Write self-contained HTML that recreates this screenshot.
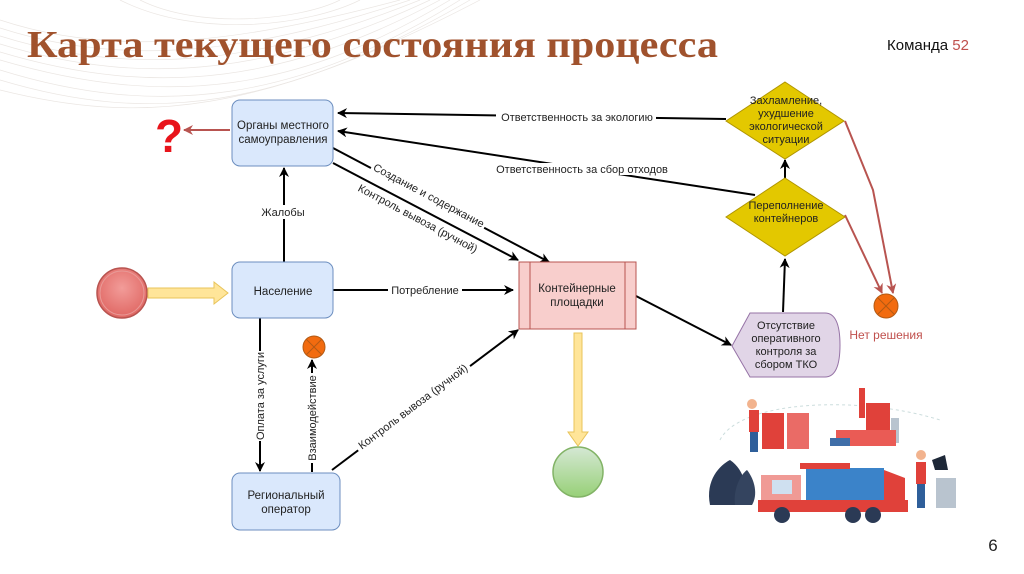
<!DOCTYPE html>
<html><head><meta charset="utf-8"><style>
html,body{margin:0;padding:0;background:#fff;}
svg{display:block;}
</style></head><body>
<svg width="1024" height="574" viewBox="0 0 1024 574" xmlns="http://www.w3.org/2000/svg" font-family="Liberation Sans, sans-serif">
<defs>
<marker id="a" markerWidth="10" markerHeight="10" refX="9" refY="5" orient="auto" markerUnits="userSpaceOnUse"><path d="M0,0 L10,5 L0,10 L3,5 z" fill="#000"/></marker>
<marker id="r" markerWidth="10" markerHeight="10" refX="9" refY="5" orient="auto" markerUnits="userSpaceOnUse"><path d="M0,0 L10,5 L0,10 L3,5 z" fill="#b85450"/></marker>
<radialGradient id="gr" cx="0.5" cy="0.4" r="0.6"><stop offset="0" stop-color="#f29c99"/><stop offset="1" stop-color="#e06763"/></radialGradient>
<linearGradient id="gg" x1="0" y1="0" x2="0" y2="1"><stop offset="0" stop-color="#d5e8d4"/><stop offset="1" stop-color="#97d077"/></linearGradient>
</defs>
<g fill="none" stroke="#e6e0dc" stroke-width="0.7" opacity="0.8">
<path d="M0,20 C120,60 250,40 400,0"/><path d="M0,28 C130,70 260,50 410,0"/><path d="M0,36 C140,80 270,60 420,0"/><path d="M0,44 C150,90 280,70 430,0"/><path d="M0,52 C160,100 290,80 440,0"/><path d="M0,60 C170,110 300,90 450,0"/><path d="M0,70 C160,120 300,100 460,0"/><path d="M0,80 C150,125 280,110 470,0"/><path d="M0,90 C140,125 260,115 480,0"/>
<path d="M140,0 C200,30 300,20 340,0"/><path d="M120,0 C200,40 310,25 360,0"/>
</g>
<text x="27" y="57" font-family="Liberation Serif, serif" font-weight="bold" font-size="38" fill="#a0522d" textLength="691" lengthAdjust="spacingAndGlyphs">Карта текущего состояния процесса</text>
<text x="887" y="50" font-size="15" fill="#111">Команда <tspan fill="#c0504d">52</tspan></text>

<g stroke="#000" stroke-width="2" fill="none">
<line x1="726" y1="119" x2="338" y2="113" marker-end="url(#a)"/>
<line x1="755" y1="195" x2="338" y2="131" marker-end="url(#a)"/>
<line x1="333" y1="148" x2="549" y2="262" marker-end="url(#a)"/>
<line x1="333" y1="163" x2="518" y2="260" marker-end="url(#a)"/>
<line x1="284" y1="262" x2="284" y2="168" marker-end="url(#a)"/>
<line x1="333" y1="290" x2="513" y2="290" marker-end="url(#a)"/>
<line x1="260" y1="318" x2="260" y2="471" marker-end="url(#a)"/>
<line x1="312" y1="472" x2="312" y2="360" marker-end="url(#a)"/>
<line x1="332" y1="470" x2="518" y2="330" marker-end="url(#a)"/>
<line x1="636" y1="296" x2="731" y2="345" marker-end="url(#a)"/>
<line x1="783" y1="312" x2="785" y2="259" marker-end="url(#a)"/>
<line x1="785" y1="178" x2="785" y2="160" marker-end="url(#a)"/>
</g>
<g stroke="#b85450" stroke-width="2" fill="none">
<line x1="230" y1="130" x2="184" y2="130" marker-end="url(#r)"/>
<polyline points="845,121 873,190 893,293" marker-end="url(#r)"/>
<polyline points="845,215 882,293" marker-end="url(#r)"/>
</g>
<text x="169" y="152" font-size="46" font-weight="bold" fill="#e8141b" text-anchor="middle">?</text>

<g font-size="11" fill="#222" text-anchor="middle">
<rect x="496" y="111" width="160" height="12" fill="#fff"/>
<text x="577" y="121">Ответственность за экологию</text>
<rect x="490" y="163" width="184" height="12" fill="#fff"/>
<text x="582" y="173">Ответственность за сбор отходов</text>
<rect x="258" y="205" width="50" height="14" fill="#fff"/>
<text x="283" y="216">Жалобы</text>
<rect x="388" y="284" width="74" height="12" fill="#fff"/>
<text x="425" y="294">Потребление</text>
<g transform="translate(428,197) rotate(28)"><rect x="-64" y="-8" width="128" height="12" fill="#fff"/><text x="0" y="2">Создание и содержание</text></g>
<g transform="translate(417,220) rotate(28)"><rect x="-70" y="-8" width="140" height="12" fill="#fff"/><text x="0" y="2">Контроль вывоза (ручной)</text></g>
<g transform="translate(260,396) rotate(-90)"><rect x="-45" y="-7" width="90" height="12" fill="#fff"/><text x="0" y="4">Оплата за услуги</text></g>
<g transform="translate(312,418) rotate(-90)"><rect x="-45" y="-7" width="90" height="12" fill="#fff"/><text x="0" y="4">Взаимодействие</text></g>
<g transform="translate(414,408) rotate(-37)"><rect x="-70" y="-8" width="140" height="12" fill="#fff"/><text x="0" y="2">Контроль вывоза (ручной)</text></g>
</g>

<g stroke="#6c8ebf" stroke-width="1" fill="#dae8fc">
<rect x="232" y="100" width="101" height="66" rx="8"/>
<rect x="232" y="262" width="101" height="56" rx="8"/>
<rect x="232" y="473" width="108" height="57" rx="8"/>
</g>
<g font-size="11.5" fill="#222" text-anchor="middle">
<text x="283" y="129">Органы местного</text><text x="283" y="143">самоуправления</text>
<text x="283" y="295">Население</text>
<text x="286" y="499">Региональный</text><text x="286" y="513">оператор</text>
</g>
<rect x="519" y="262" width="117" height="67" fill="#f8cecc" stroke="#b85450"/>
<line x1="530" y1="262" x2="530" y2="329" stroke="#b85450"/>
<line x1="625" y1="262" x2="625" y2="329" stroke="#b85450"/>
<text x="577" y="292" font-size="11.5" text-anchor="middle" fill="#222">Контейнерные</text>
<text x="577" y="306" font-size="11.5" text-anchor="middle" fill="#222">площадки</text>

<circle cx="122" cy="293" r="25" fill="url(#gr)" stroke="#b85450" stroke-width="1.5"/>
<circle cx="122" cy="293" r="22" fill="none" stroke="#e89a97" stroke-width="1"/>
<path d="M148,288 L214,288 L214,282 L228,293 L214,304 L214,298 L148,298 z" fill="#ffe599" stroke="#e8c45a"/>
<circle cx="578" cy="472" r="25" fill="url(#gg)" stroke="#82b366" stroke-width="1.5"/>
<path d="M574,333 L582,333 L582,432 L588,432 L578,446 L568,432 L574,432 z" fill="#ffe599" stroke="#e8c45a"/>

<g stroke="#b35a14" stroke-width="1"><circle cx="314" cy="347" r="11" fill="#f26b0f"/><line x1="306" y1="339" x2="322" y2="355"/><line x1="322" y1="339" x2="306" y2="355"/>
<circle cx="886" cy="306" r="12" fill="#f26b0f"/><line x1="878" y1="298" x2="894" y2="314"/><line x1="894" y1="298" x2="878" y2="314"/></g>
<text x="886" y="339" font-size="12" fill="#c0504d" text-anchor="middle">Нет решения</text>

<polygon points="785,82 844,121 785,159 726,121" fill="#e3c800" stroke="#b09500"/>
<g font-size="11" fill="#222" text-anchor="middle"><text x="786" y="104">Захламление,</text><text x="786" y="117">ухудшение</text><text x="786" y="130">экологической</text><text x="786" y="143">ситуации</text></g>
<polygon points="785,178 845,217 785,256 726,217" fill="#e3c800" stroke="#b09500"/>
<g font-size="11" fill="#222" text-anchor="middle"><text x="786" y="209">Переполнение</text><text x="786" y="222">контейнеров</text></g>
<path d="M732,346 L750,313 L825,313 Q840,313 840,345 Q840,377 825,377 L750,377 z" fill="#e1d5e7" stroke="#9673a6"/>
<g font-size="11" fill="#222" text-anchor="middle"><text x="786" y="329">Отсутствие</text><text x="786" y="342">оперативного</text><text x="786" y="355">контроля за</text><text x="786" y="368">сбором ТКО</text></g>

<g>
<path d="M720,440 C740,400 860,395 940,420" fill="none" stroke="#cdd" stroke-dasharray="3,3"/>
<rect x="859" y="388" width="6" height="30" fill="#e0413a"/>
<rect x="866" y="403" width="24" height="40" fill="#e0413a"/>
<rect x="891" y="418" width="8" height="25" fill="#b9c4cf"/>
<rect x="836" y="430" width="60" height="16" fill="#ea5b55"/>
<rect x="830" y="438" width="20" height="8" fill="#3f6ea8"/>
<rect x="762" y="413" width="22" height="36" fill="#e0413a"/>
<rect x="787" y="413" width="22" height="36" fill="#ea6b66"/>
<rect x="749" y="410" width="10" height="22" fill="#e0413a"/>
<circle cx="752" cy="404" r="5" fill="#f2b38e"/>
<rect x="750" y="432" width="8" height="20" fill="#2f5f9a"/>
<path d="M710,505 C705,480 720,465 730,460 C745,470 748,490 745,505 z" fill="#2b3a55"/>
<path d="M735,505 C733,490 740,475 747,470 C755,480 758,495 752,505 z" fill="#34445f"/>
<rect x="806" y="468" width="78" height="36" fill="#3b83c9"/>
<rect x="800" y="463" width="50" height="6" fill="#e0413a"/>
<path d="M884,470 L905,478 L905,505 L884,505 z" fill="#e0413a"/>
<rect x="761" y="475" width="40" height="30" fill="#f09a95"/>
<rect x="772" y="480" width="20" height="14" fill="#cfe0f0"/>
<rect x="758" y="500" width="150" height="12" fill="#e0413a"/>
<circle cx="782" cy="515" r="8" fill="#2b3a55"/><circle cx="853" cy="515" r="8" fill="#2b3a55"/><circle cx="873" cy="515" r="8" fill="#2b3a55"/>
<rect x="916" y="462" width="10" height="22" fill="#e0413a"/>
<circle cx="921" cy="455" r="5" fill="#f2b38e"/>
<rect x="917" y="484" width="8" height="24" fill="#2f5f9a"/>
<rect x="936" y="478" width="20" height="30" fill="#b9c4cf"/>
<path d="M932,460 L945,455 L948,470 L935,470 z" fill="#1e2838"/>
</g>
<text x="993" y="551" font-size="17" fill="#222" text-anchor="middle">6</text>
</svg>
</body></html>
